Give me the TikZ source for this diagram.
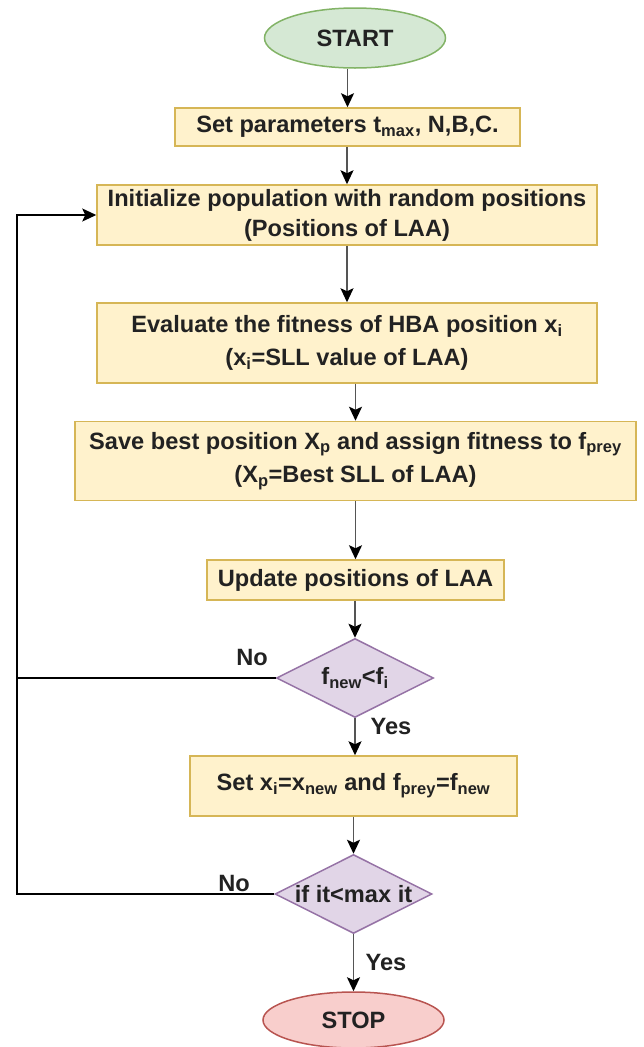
\documentclass[tikz,border=0pt]{standalone}
\usepackage{fontspec}
\setmainfont{Liberation Sans}
\usetikzlibrary{shapes.geometric,arrows.meta}
\definecolor{boxfill}{HTML}{FFF2CC}
\definecolor{boxline}{HTML}{D6B656}
\definecolor{startfill}{HTML}{D5E8D4}
\definecolor{startline}{HTML}{82B366}
\definecolor{decfill}{HTML}{E1D5E7}
\definecolor{decline}{HTML}{9673A6}
\definecolor{stopfill}{HTML}{F8CECC}
\definecolor{stopline}{HTML}{B85450}
\definecolor{arrline}{HTML}{555555}
\definecolor{txt}{HTML}{222222}
\begin{document}
\begin{tikzpicture}[x=1pt,y=-1pt,
  font=\bfseries\fontsize{23.6}{30}\selectfont, text=txt,
  every node/.style={inner sep=0pt, align=center},
  box/.style={draw=boxline, fill=boxfill, line width=1.5pt, rectangle},
  wide/.style={font=\bfseries\fontsize{23.6}{33.5}\selectfont},
  term/.style={ellipse, line width=1.5pt, minimum width=181pt},
  dec/.style={diamond, draw=decline, fill=decfill, line width=1.5pt, minimum width=157pt, minimum height=79pt},
  arr/.style={draw=arrline, line width=1.8pt, -{Stealth[length=14pt,width=13pt,inset=3pt,color=black]}},
  loop/.style={draw=black, line width=1.6pt},
  lbl/.style={font=\bfseries\fontsize{23.6}{25}\selectfont}]
\useasboundingbox (0,0) rectangle (643,1047);
\node[term, draw=startline, fill=startfill, minimum height=60pt] (start) at (355,38) {START};
\node[box, minimum width=345pt, minimum height=38pt] (params) at (347.5,127) {Set parameters t\textsubscript{max}, N,B,C.};
\node[box, minimum width=500pt, minimum height=60pt] (init) at (347,215) {Initialize population with random positions\\(Positions of LAA)};
\node[box, wide, minimum width=500pt, minimum height=80pt] (eval) at (347,343) {Evaluate the fitness of HBA position x\textsubscript{i}\\(x\textsubscript{i}=SLL value of LAA)};
\node[box, wide, minimum width=561pt, minimum height=79pt] (save) at (355.5,461) {Save best position X\textsubscript{p} and assign fitness to f\textsubscript{prey}\\(X\textsubscript{p}=Best SLL of LAA)};
\node[box, minimum width=297pt, minimum height=40pt] (update) at (355.5,580) {Update positions of LAA};
\node[dec, label=center:{f\textsubscript{new}<f\textsubscript{i}}] (d1) at (355,678) {};
\node[box, minimum width=327pt, minimum height=60pt] (setx) at (353.5,786) {Set x\textsubscript{i}=x\textsubscript{new} and f\textsubscript{prey}=f\textsubscript{new}};
\node[dec, label=center:{if it<max it}] (d2) at (353.5,894) {};
\node[term, draw=stopline, fill=stopfill, minimum height=56pt] (stop) at (353.5,1020) {STOP};
\coordinate (lx1) at (17,678);
\coordinate (lx2) at (17,894);
\coordinate (lx0) at (17,215);
\draw[arr] (start.south -| params.north) -- (params.north);
\draw[arr] (params.south -| init.north) -- (init.north);
\draw[arr] (init.south -| eval.north) -- (eval.north);
\draw[arr] (eval.south -| save.north) -- (save.north);
\draw[arr] (save.south) -- (update.north);
\draw[arr] (update.south -| d1.north) -- (d1.north);
\draw[arr] (d1.south) -- (d1.south |- setx.north);
\draw[arr] (setx.south -| d2.north) -- (d2.north);
\draw[arr] (d2.south) -- (stop.north);
\draw[loop] (d1.west) -- (lx1);
\draw[loop, -{Stealth[length=14pt,width=13pt,inset=3pt]}] (d2.west) -- (lx2) -- (lx0) -- (init.west);
\node[lbl] (no1) at (252,657) {No};
\node[lbl] (no2) at (234,883) {No};
\node[lbl] (yes1) at (391,726) {Yes};
\node[lbl] (yes2) at (386,962) {Yes};
\end{tikzpicture}
\end{document}
